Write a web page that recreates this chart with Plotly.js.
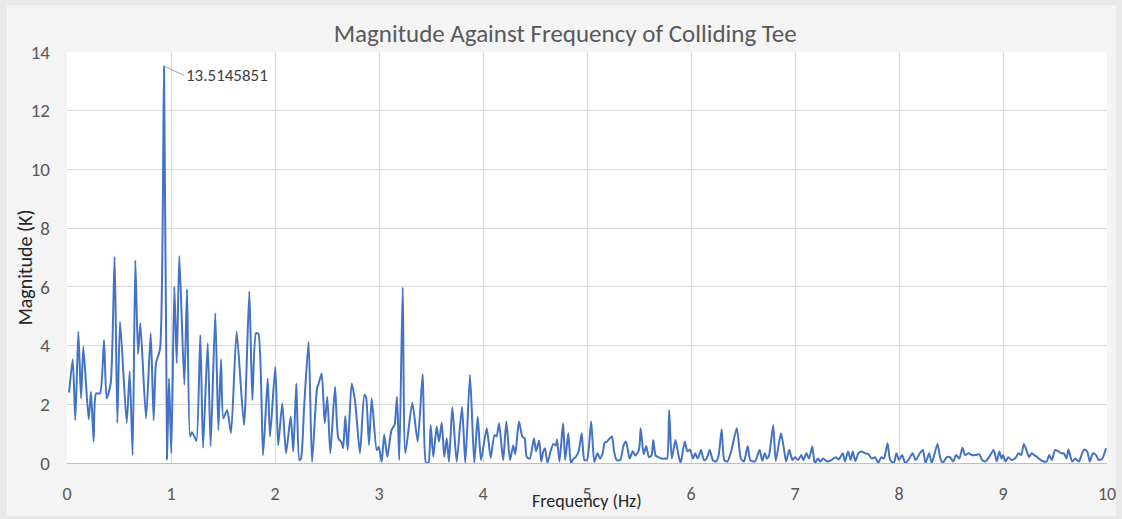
<!DOCTYPE html>
<html>
<head>
<meta charset="utf-8">
<script src="https://cdn.plot.ly/plotly-3.0.1.min.js"></script>
<style>
  html, body { margin: 0; padding: 0; background: #e9e9e9; }
  #chart { position: absolute; left: 7px; top: 5px; width: 1109px; height: 511px; }
</style>
</head>
<body>
<div id="chart"></div>
<script>
// Frequency spectrum of the colliding tee (Hz vs magnitude K)
const freq = [
  0.02,0.055,0.08,0.109,0.135,0.157,0.208,0.231,0.256,0.279,0.317,0.356,0.381,0.42,0.458,0.484,0.51,0.574,0.603,0.631,
  0.657,0.683,0.705,0.76,0.805,0.833,0.856,0.895,0.933,0.962,0.981,1.003,1.032,1.055,1.08,1.128,1.154,1.183,1.2,1.225,
  1.245,1.282,1.308,1.353,1.381,1.426,1.455,1.481,1.503,1.54,1.577,1.631,1.702,1.753,1.782,1.817,1.84,1.885,1.93,1.952,
  2.003,2.03,2.07,2.106,2.151,2.176,2.205,2.234,2.25,2.28,2.323,2.356,2.404,2.42,2.449,2.478,2.503,2.532,2.577,2.609,
  2.64,2.655,2.676,2.699,2.737,2.77,2.817,2.859,2.875,2.904,2.93,2.978,2.998,3.026,3.05,3.08,3.12,3.15,3.173,3.195,
  3.228,3.253,3.32,3.372,3.42,3.452,3.475,3.497,3.522,3.555,3.577,3.603,3.628,3.651,3.673,3.705,3.747,3.798,3.83,3.875,
  3.916,3.949,3.981,4.036,4.074,4.11,4.13,4.154,4.18,4.195,4.224,4.26,4.29,4.31,4.346,4.378,4.4,4.42,4.45,4.49,
  4.51,4.54,4.56,4.58,4.596,4.62,4.65,4.676,4.7,4.712,4.735,4.77,4.79,4.82,4.845,4.87,4.89,4.92,4.949,4.975,
  5.0,5.04,5.07,5.1,5.125,5.15,5.17,5.19,5.21,5.24,5.26,5.285,5.32,5.35,5.375,5.41,5.44,5.465,5.5,5.516,
  5.545,5.57,5.595,5.62,5.637,5.66,5.685,5.72,5.75,5.77,5.79,5.815,5.85,5.875,5.9,5.94,5.965,5.99,6.02,6.04,
  6.065,6.096,6.125,6.15,6.18,6.21,6.24,6.265,6.295,6.32,6.35,6.39,6.44,6.48,6.51,6.545,6.57,6.615,6.66,6.685,
  6.71,6.73,6.75,6.79,6.815,6.865,6.9,6.915,6.945,6.975,7.0,7.03,7.06,7.08,7.11,7.135,7.166,7.19,7.22,7.245,
  7.27,7.31,7.35,7.39,7.42,7.46,7.48,7.51,7.535,7.555,7.58,7.61,7.64,7.675,7.705,7.74,7.77,7.8,7.83,7.855,
  7.89,7.915,7.95,7.975,8.0,8.03,8.06,8.09,8.13,8.16,8.2,8.23,8.255,8.29,8.315,8.37,8.395,8.42,8.46,8.49,
  8.52,8.55,8.58,8.61,8.635,8.67,8.7,8.735,8.77,8.8,8.83,8.865,8.91,8.94,8.965,8.985,9.0,9.025,9.05,9.085,
  9.115,9.15,9.175,9.2,9.225,9.25,9.275,9.3,9.33,9.355,9.39,9.42,9.445,9.47,9.5,9.535,9.56,9.585,9.61,9.63,
  9.665,9.695,9.73,9.755,9.78,9.81,9.835,9.865,9.895,9.92,9.955,9.99
];
const magnitude = [
  2.4,3.53,1.46,4.47,2.2,3.96,1.49,2.43,0.73,2.37,2.37,4.19,2.2,2.71,7.03,1.37,4.81,1.37,3.11,0.27,
  6.91,3.71,4.76,1.52,4.42,1.46,3.4,3.9,13.5145851,0.13,2.88,0.33,6.0,3.4,7.05,2.66,5.92,0.9,1.05,0.9,
  0.75,4.36,0.52,4.08,0.58,5.1,1.12,3.53,1.52,1.8,1.02,4.47,1.29,5.84,2.15,4.42,4.4,0.27,2.88,0.9,
  3.28,0.6,2.03,0.33,1.58,0.39,2.71,0.1,0.15,1.9,4.13,0.04,2.54,2.71,3.05,1.35,2.26,0.33,2.6,0.84,
  0.7,0.5,1.6,0.44,2.71,2.1,0.33,2.32,2.25,0.61,2.2,0.44,0.55,0.04,0.97,0.21,1.12,1.3,2.26,0.1,
  5.98,0.33,2.05,0.73,3.03,0.0,0.0,1.29,0.21,1.24,0.73,1.37,0.21,0.84,0.04,1.9,0.04,1.92,0.0,3.0,
  0.0,1.58,0.1,1.18,0.17,0.95,0.9,1.35,0.5,0.1,1.41,0.1,0.6,0.3,1.41,0.9,0.85,0.21,0.15,0.84,
  0.4,0.77,0.05,0.4,0.5,0.0,0.4,0.65,0.6,0.8,0.05,1.35,0.1,1.01,0.0,0.15,0.2,0.4,1.01,0.1,
  0.1,1.41,0.04,0.33,0.15,0.33,0.69,0.72,0.8,0.9,0.4,0.1,0.1,0.58,0.73,0.15,0.4,0.25,0.45,1.18,
  0.3,0.58,0.2,0.25,0.78,0.25,0.2,0.15,0.15,0.15,1.8,0.15,0.78,0.35,0.0,0.73,0.4,0.45,0.15,0.33,
  0.15,0.44,0.1,0.15,0.44,0.1,0.05,0.25,1.15,0.1,0.05,0.45,1.18,0.15,0.05,0.58,0.1,0.05,0.44,0.07,
  0.33,0.15,0.25,1.29,0.07,1.01,0.33,0.05,0.44,0.1,0.2,0.1,0.27,0.1,0.33,0.15,0.56,0.0,0.15,0.05,
  0.15,0.05,0.1,0.2,0.12,0.33,0.05,0.39,0.1,0.39,0.07,0.33,0.39,0.33,0.3,0.15,0.2,0.0,0.2,0.15,
  0.67,0.1,0.0,0.33,0.1,0.27,0.0,0.1,0.33,0.1,0.33,0.44,0.0,0.33,0.0,0.65,0.2,0.0,0.2,0.2,
  0.05,0.27,0.15,0.52,0.27,0.33,0.27,0.27,0.3,0.1,0.05,0.2,0.44,0.05,0.39,0.15,0.27,0.05,0.2,0.1,
  0.15,0.33,0.27,0.65,0.44,0.2,0.33,0.27,0.2,0.12,0.05,0.05,0.27,0.1,0.44,0.39,0.33,0.33,0.15,0.46,
  0.05,0.15,0.05,0.27,0.46,0.39,0.05,0.33,0.27,0.1,0.15,0.5
];
const xTicks = [0,1,2,3,4,5,6,7,8,9,10];
const yTicks = [0,2,4,6,8,10,12,14];

// highest point of the spectrum gets a value callout
let peakIdx = 0;
magnitude.forEach((v, i) => { if (v > magnitude[peakIdx]) peakIdx = i; });

const fontFam = 'Carlito, "Liberation Sans Narrow", "DejaVu Sans Condensed", "Open Sans", sans-serif';

const trace = {
  x: freq,
  y: magnitude,
  type: 'scatter',
  mode: 'lines',
  line: { color: '#4472c4', width: 2, shape: 'spline', smoothing: 0.6 },
  hoverinfo: 'x+y'
};

const layout = {
  width: 1109,
  height: 511,
  paper_bgcolor: '#f4f4f4',
  plot_bgcolor: '#ffffff',
  margin: { l: 60, r: 9, t: 47, b: 53 },
  showlegend: false,
  font: { family: fontFam, color: '#595959' },
  title: {
    text: 'Magnitude Against Frequency of Colliding Tee',
    font: { family: fontFam, size: 25, color: '#595959' },
    x: 0.479, xanchor: 'center', xref: 'paper',
    y: 0.945, yanchor: 'middle', yref: 'container'
  },
  xaxis: {
    range: [0, 10],
    tickvals: xTicks,
    ticktext: xTicks.map(String),
    showgrid: true,
    gridcolor: '#d9d9d9',
    gridwidth: 1,
    zeroline: false,
    showline: false,
    ticks: '',
    ticklabelstandoff: 18,
    ticklabeloverflow: 'allow',
    tickfont: { family: fontFam, size: 18, color: '#595959' },
    fixedrange: true
  },
  yaxis: {
    range: [0, 14],
    tickvals: yTicks,
    ticktext: yTicks.map(String),
    showgrid: true,
    gridcolor: '#d9d9d9',
    gridwidth: 1,
    zeroline: true,
    zerolinecolor: '#bfbfbf',
    zerolinewidth: 1,
    showline: false,
    ticks: '',
    ticklabelstandoff: 16,
    tickfont: { family: fontFam, size: 19, color: '#595959' },
    fixedrange: true
  },
  annotations: [
    {
      x: freq[peakIdx], y: magnitude[peakIdx],
      xref: 'x', yref: 'y',
      text: String(magnitude[peakIdx]),
      showarrow: true, arrowhead: 0, arrowwidth: 1, arrowcolor: '#a6a6a6',
      ax: 20, ay: 9, xanchor: 'left', yanchor: 'middle',
      standoff: 0,
      font: { family: fontFam, size: 17, color: '#404040' }
    },
    {
      text: 'Frequency (Hz)',
      xref: 'paper', yref: 'paper', x: 0.5, y: -0.093,
      xanchor: 'center', yanchor: 'middle', showarrow: false,
      font: { family: fontFam, size: 18, color: '#262626' }
    },
    {
      text: 'Magnitude (K)',
      xref: 'paper', yref: 'paper', x: -0.04, y: 0.477,
      xanchor: 'center', yanchor: 'middle', showarrow: false, textangle: -90,
      font: { family: fontFam, size: 20, color: '#262626' }
    }
  ]
};

Plotly.newPlot('chart', [trace], layout, { displayModeBar: false, staticPlot: true });
</script>
</body>
</html>
